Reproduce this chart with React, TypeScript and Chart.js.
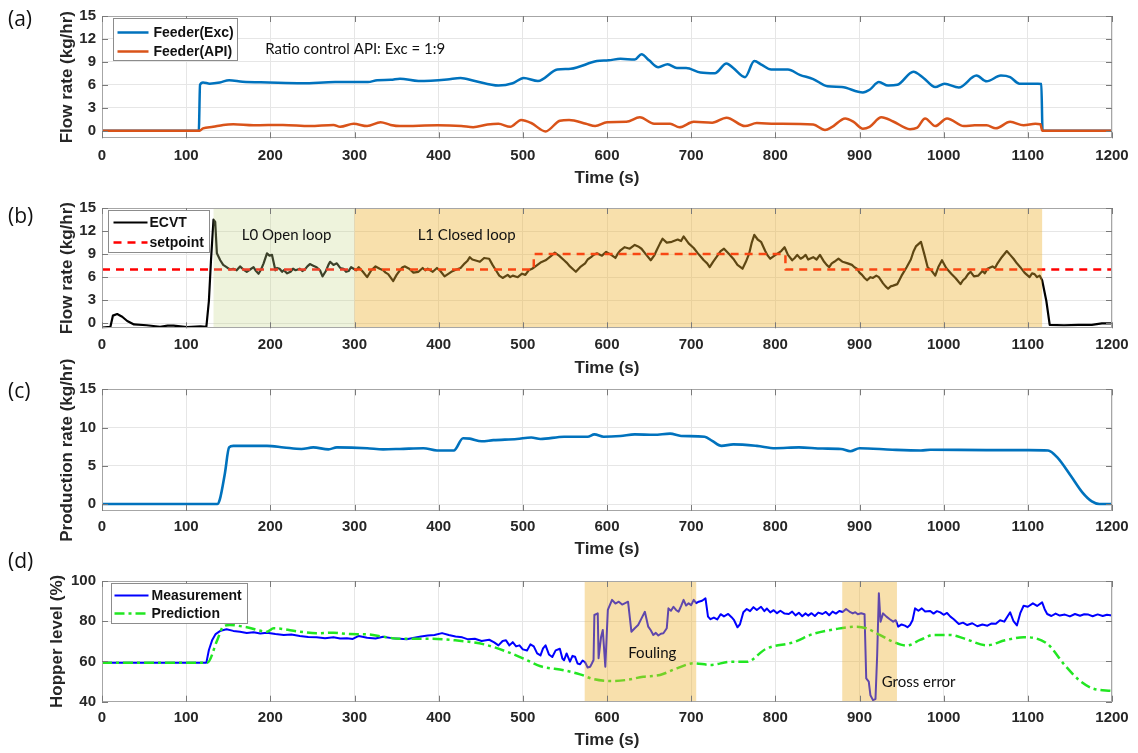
import React, { useEffect, useRef } from "react";
import { Chart, registerables } from "chart.js";

Chart.register(...registerables);

// ---------------- data ----------------
const timeTicks = [0, 100, 200, 300, 400, 500, 600, 700, 800, 900, 1000, 1100, 1200];
const flowTicks = [0, 3, 6, 9, 12, 15];
const productionTicks = [0, 5, 10, 15];
const hopperTicks = [40, 60, 80, 100];

// (a) feeder flow rates [time s, kg/hr]
const feederExc = [
  [0, 0], [115, 0], [116.5, 6.0], [120, 6.3], [128, 6.15], [140, 6.3], [151, 6.6], [167, 6.4], [198, 6.3],
  [238, 6.2], [277, 6.35], [316, 6.35], [327, 6.6], [343, 6.65], [354, 6.8], [376, 6.5], [410, 6.7],
  [426, 6.9], [443, 6.5], [471, 5.9], [488, 6.2], [501, 6.9], [518, 6.5], [541, 8.0], [557, 8.1],
  [588, 9.1], [602, 9.2], [616, 9.4], [633, 9.3], [641, 10.0], [650, 9.2], [661, 8.3], [672, 8.7],
  [683, 8.2], [694, 8.2], [711, 7.6], [728, 7.5], [742, 8.8], [750, 8.2], [764, 7.0], [775, 9.1],
  [784, 8.6], [795, 8.0], [815, 8.0], [829, 7.3], [845, 6.75], [862, 5.8], [879, 5.7], [904, 5.0],
  [912, 5.35], [923, 6.35], [934, 5.9], [945, 6.0], [964, 7.7], [976, 6.9], [990, 5.7], [1001, 6.15],
  [1018, 5.65], [1039, 7.2], [1051, 6.45], [1068, 7.2], [1079, 7.0], [1090, 6.15], [1112, 6.15],
  [1116, 6.1], [1117.5, 0], [1200, 0],
];
const feederApi = [
  [0, 0], [116, 0], [120, 0.3], [132, 0.5], [144, 0.75], [156, 0.83], [180, 0.7], [215, 0.75], [247, 0.6],
  [275, 0.75], [283, 0.5], [299, 0.9], [315, 0.6], [331, 1.1], [343, 0.75], [354, 0.6], [399, 0.7],
  [427, 0.6], [441, 0.45], [458, 0.8], [471, 0.9], [485, 0.5], [498, 1.4], [510, 1.0], [527, -0.1],
  [544, 1.3], [555, 1.4], [575, 0.9], [586, 0.6], [600, 1.1], [623, 1.15], [639, 1.75], [656, 0.9],
  [675, 0.9], [686, 0.45], [703, 1.15], [725, 1.05], [742, 1.7], [764, 0.6], [778, 1.0], [800, 0.9],
  [845, 0.8], [859, 0.1], [867, 0.45], [883, 1.6], [893, 1.15], [904, 0.25], [912, 0.5], [926, 1.75],
  [940, 1.2], [960, 0.2], [968, 0.35], [978, 1.6], [990, 0.6], [1004, 1.6], [1024, 0.6], [1037, 0.7],
  [1051, 0.7], [1062, 0.3], [1079, 1.15], [1095, 0.7], [1109, 0.9], [1115, 0.85], [1117, 0], [1200, 0],
];

// (b) ECVT flow rate and setpoint
const ecvt = [
  [0, -0.57], [10, -0.45], [13, 1.0], [18, 1.2], [24, 0.85], [30, 0.3], [38, -0.15], [53, -0.25],
  [69, -0.45], [78, -0.3], [85, -0.3], [101, -0.5], [117, -0.4], [124, -0.45], [127, 2.9], [129.5, 8.2],
  [132.5, 13.5], [134.5, 13.2], [136.5, 9.1], [140.5, 8.2], [144, 7.6], [148, 7.3], [152, 7.0], [156, 7.1],
  [160, 6.9], [164, 7.4], [168, 7.0], [172, 6.7], [176, 7.0], [180, 7.3], [183, 6.8], [186, 6.45],
  [189, 7.0], [192, 7.8], [196, 9.1], [199, 8.8], [202, 8.9], [206, 6.9], [208, 7.2], [211, 7.1],
  [214, 6.7], [216, 6.9], [220, 6.5], [224, 6.7], [227, 7.1], [230, 6.9], [235, 7.1], [238, 6.8],
  [241, 7.0], [244, 7.4], [247, 7.7], [251, 7.5], [255, 7.3], [259, 6.9], [262, 6.1], [266, 6.8],
  [269, 7.6], [271, 8.0], [275, 7.6], [279, 7.8], [283, 7.2], [287, 7.1], [290, 6.7], [293, 6.8],
  [296, 7.3], [299, 7.1], [302, 6.9], [305, 7.3], [310, 6.7], [315, 6.0], [320, 6.9], [325, 7.4],
  [330, 7.1], [334, 6.9], [337, 6.6], [340, 6.4], [346, 5.5], [350, 6.3], [354, 6.9], [357, 7.3],
  [360, 7.4], [365, 7.1], [370, 6.6], [376, 6.7], [381, 7.2], [384, 6.9], [387, 7.1], [393, 6.7],
  [398, 7.2], [402, 6.8], [407, 6.1], [411, 6.4], [415, 6.7], [421, 7.0], [426, 7.2], [431, 7.8],
  [434, 8.1], [437, 8.6], [440, 8.3], [443, 8.2], [449, 8.0], [454, 8.5], [460, 8.4], [464, 7.6],
  [468, 6.9], [472, 6.2], [476, 5.9], [482, 6.3], [485, 6.0], [488, 6.2], [494, 6.0], [499, 6.45],
  [503, 6.3], [507, 6.9], [511, 7.1], [515, 7.4], [521, 7.9], [527, 8.2], [533, 8.7], [538, 9.2],
  [543, 8.8], [549, 8.2], [552, 7.9], [556, 7.4], [560, 7.0], [563, 6.7], [568, 7.3], [574, 7.8],
  [577, 8.3], [581, 8.6], [584, 8.9], [588, 9.1], [594, 8.8], [599, 9.3], [605, 8.9], [610, 8.5],
  [613, 9.1], [616, 9.5], [621, 9.9], [627, 9.7], [633, 10.2], [637, 10.0], [641, 9.7], [646, 9.0],
  [652, 8.2], [656, 8.8], [659, 9.5], [663, 10.4], [666, 11.0], [671, 10.5], [677, 10.6],
  [684, 10.9], [688, 10.7], [691, 11.3], [697, 10.4], [703, 9.8], [708, 9.1], [712, 8.6], [715, 8.2],
  [719, 7.8], [722, 7.3], [726, 8.0], [730, 8.6], [735, 9.4], [739, 9.7], [745, 9.0], [750, 8.4],
  [755, 7.6], [761, 7.1], [765, 8.0], [769, 9.1], [772, 10.5], [775, 11.5], [779, 10.9], [783, 10.6],
  [788, 9.4], [791, 8.8], [794, 8.4], [799, 8.8], [803, 9.1], [807, 9.4], [811, 9.9], [815, 8.9],
  [820, 8.2], [823, 8.5], [826, 8.9], [830, 8.4], [833, 8.6], [836, 8.9], [839, 8.3], [845, 8.6],
  [849, 8.3], [853, 8.9], [858, 8.0], [861, 7.6], [864, 7.3], [867, 7.8], [870, 8.0], [875, 8.4],
  [880, 8.0], [886, 7.8], [891, 7.6], [894, 7.3], [897, 7.1], [900, 6.6], [903, 6.3], [906, 5.9],
  [909, 5.6], [913, 6.0], [916, 5.9], [920, 6.2], [923, 6.0], [928, 5.2], [931, 4.8], [934, 4.5],
  [937, 4.8], [940, 4.9], [945, 5.1], [950, 6.2], [956, 7.3], [961, 8.3], [964, 9.3], [967, 10.0],
  [970, 10.3], [973, 10.6], [977, 9.0], [981, 7.3], [986, 6.8], [990, 6.2], [994, 7.4], [998, 8.2],
  [1003, 7.2], [1009, 6.45], [1014, 5.9], [1017, 5.5], [1020, 5.1], [1023, 5.6], [1026, 5.9],
  [1029, 6.4], [1032, 6.7], [1036, 6.1], [1041, 6.2], [1046, 6.8], [1049, 6.5], [1052, 7.1],
  [1058, 7.4], [1061, 7.2], [1064, 7.8], [1069, 8.6], [1075, 9.4], [1079, 8.9], [1083, 8.4],
  [1087, 7.8], [1091, 7.3], [1096, 6.6], [1099, 6.3], [1102, 6.0], [1105, 6.5], [1108, 6.4],
  [1111, 6.0], [1114, 6.2], [1117, 5.6], [1122, 2.9], [1126, -0.2], [1143, -0.25], [1160, -0.2],
  [1176, -0.2], [1188, 0], [1200, 0],
];
const setpoint = [[0, 7], [513, 7], [513, 9], [812, 9], [812, 7], [1200, 7]];

// (c) production rate
const production = [
  [0, 0], [137, 0], [140, 0.6], [146, 4.0], [151, 7.4], [156, 7.6], [196, 7.6], [216, 7.4], [237, 7.2],
  [251, 7.4], [269, 7.15], [279, 7.4], [315, 7.3], [334, 7.15], [354, 7.2], [382, 7.3], [398, 7.0],
  [418, 7.0], [429, 8.6], [437, 8.55], [451, 8.2], [465, 8.35], [493, 8.5], [510, 8.7], [521, 8.5],
  [549, 8.8], [577, 8.8], [585, 9.1], [596, 8.8], [616, 8.9], [633, 9.1], [656, 9.05], [675, 9.2],
  [688, 8.9], [716, 8.8], [725, 8.25], [736, 7.6], [750, 7.8], [778, 7.6], [800, 7.3], [828, 7.4],
  [856, 7.25], [878, 7.2], [889, 6.9], [900, 7.3], [939, 7.1], [973, 7.0], [984, 7.1], [1051, 7.05],
  [1101, 7.05], [1124, 7.0], [1135, 6.1], [1151, 3.7], [1165, 1.5], [1176, 0.35], [1185, 0], [1200, 0],
];

// (d) hopper level [time s, %]
const hopperMeasurement = [
  [0, 59.4], [124, 59.4], [127, 65.7], [131, 70.7], [135, 73.6], [141, 75.3], [148, 76], [156, 75.2],
  [164, 74.8], [172, 74.2], [180, 74.5], [188, 73.9], [196, 74.3], [206, 73.6], [216, 73.1],
  [225, 73.4], [235, 72.7], [245, 72.2], [255, 72], [265, 71.6], [275, 72], [283, 71.4], [291, 71.5],
  [298, 71.2], [305, 72.7], [315, 71.8], [325, 71.4], [334, 72.3], [344, 71.6], [354, 71.3],
  [362, 71.0], [371, 71.8], [379, 72.4], [387, 72.9], [395, 73.2], [404, 74.1], [412, 73.2],
  [420, 72.4], [428, 72.0], [435, 71.0], [443, 71.3], [451, 70.2], [460, 70.8], [466, 69.5],
  [471, 68], [476, 70.2], [480, 70.5], [484, 68.0], [488, 69.6], [492, 67.5], [496, 68], [500, 66.0],
  [505, 65.5], [509, 68.5], [513, 67.5], [517, 64.0], [521, 63], [524, 66.5], [527, 68], [531, 63.5],
  [535, 62.2], [539, 65.5], [544, 66.3], [547, 61.5], [549, 60.6], [552, 64.0], [556, 59.9],
  [559, 62.8], [562, 62.4], [565, 59.0], [568, 58.6], [571, 60.5], [574, 59.6], [577, 57.0],
  [580, 57.4], [582, 59.0], [584, 60.7], [585, 83.1], [589, 83.9], [590, 61.6], [593, 72.3],
  [595, 75.6], [598, 57.4], [601, 85.6], [606, 90.6], [610, 88.8], [614, 89.7], [618, 88.3],
  [621, 88.9], [625, 89.7], [629, 74.8], [633, 76.5], [637, 78.1], [641, 81.4], [645, 84.7],
  [649, 77.3], [652, 75.5], [655, 73.2], [658, 74.2], [661, 72.9], [664, 73.8], [667, 74],
  [671, 76.5], [673, 86.4], [676, 85.2], [679, 87.2], [682, 85.6], [685, 84.7], [688, 87.5],
  [691, 90.6], [694, 87.8], [697, 88.9], [700, 88.0], [703, 90.6], [706, 89.0], [709, 89.7],
  [713, 90.2], [717, 91.4], [720, 82.3], [723, 81.0], [727, 81.8], [731, 80.9], [735, 83.5],
  [739, 82.4], [744, 83.6], [748, 82.0], [751, 80.5], [755, 77], [758, 78.5], [762, 84.5],
  [766, 86.1], [770, 85.0], [774, 87.0], [778, 85.6], [783, 87.2], [787, 85.0], [790, 86.3],
  [794, 84.4], [798, 85.5], [802, 84.0], [806, 85.2], [811, 83.8], [816, 83.6], [820, 84.8],
  [824, 82.9], [828, 84.2], [832, 82.5], [836, 83.9], [839, 82.8], [843, 84.0], [847, 82.6],
  [851, 84.3], [856, 83.6], [860, 84.6], [864, 83.0], [868, 84.8], [872, 83.8], [876, 85.1],
  [880, 84.6], [884, 86.1], [888, 84.8], [892, 83.9], [895, 84.5], [898, 83.5], [902, 84.0],
  [906, 83.5], [908, 51.6], [911, 50], [913, 43.2], [916, 40.8], [919, 41.3], [921, 63.2],
  [923, 93.9], [925, 79.8], [928, 83.9], [932, 82.3], [936, 81.0], [940, 79.8], [943, 80.5],
  [946, 77.3], [950, 78.4], [954, 77.8], [957, 77.0], [960, 78.1], [963, 80.5], [966, 86.4],
  [970, 85.2], [974, 86.4], [978, 84.8], [984, 85.1], [988, 83.8], [992, 85.0], [996, 84.4],
  [1000, 83.2], [1004, 84.1], [1008, 82.3], [1012, 81.0], [1018, 78.6], [1023, 79.3], [1028, 78.1],
  [1034, 79.0], [1040, 77.5], [1046, 78.4], [1052, 77.8], [1057, 78.9], [1062, 78.7], [1067, 80.5],
  [1072, 79.8], [1076, 82.5], [1079, 84.4], [1083, 80.0], [1087, 77.9], [1091, 84.0], [1095, 87.7],
  [1100, 87.2], [1106, 88.9], [1111, 87.6], [1117, 89.4], [1120, 86.0], [1123, 83.6], [1128, 82.6],
  [1133, 83.8], [1138, 82.8], [1144, 83.3], [1150, 82.4], [1156, 83.6], [1162, 82.7], [1167, 83.5],
  [1172, 83.3], [1177, 82.5], [1183, 83.4], [1189, 82.6], [1194, 83.2], [1200, 82.8],
];
const hopperPrediction = [
  [0, 59.4], [125, 59.4], [137, 70.7], [144, 77.3], [152, 78.1], [172, 77], [196, 74.8], [204, 76.5],
  [235, 74.8], [255, 74], [275, 74.3], [295, 73.6], [315, 73.5], [334, 72.3], [354, 71.3], [387, 71.3],
  [420, 70.5], [454, 68.5], [482, 64.7], [505, 60.6], [521, 57.6], [549, 55.6], [568, 53.6],
  [584, 51.2], [604, 50.3], [623, 50.8], [643, 52.4], [663, 53.3], [683, 56.6], [703, 59.1],
  [723, 58.3], [747, 59.8], [766, 59.8], [789, 66.3], [822, 69.6], [845, 73.7], [873, 76.2],
  [896, 77.3], [908, 76.5], [924, 73.2], [940, 69.8], [956, 67.9], [972, 70.7], [988, 73.2],
  [1008, 73.2], [1024, 71.5], [1051, 68], [1073, 70.5], [1095, 72.1], [1123, 68.8], [1144, 58.1],
  [1161, 50.7], [1177, 46.6], [1200, 45.4],
];

// shaded time windows [start s, end s]
const openLoopSpan = [132.5, 300];
const closedLoopSpan = [300, 1117];
const foulingSpan = [573.5, 706];
const grossErrorSpan = [879.5, 944.5];

// ---------------- styling / layout ----------------
const W = 1138;
const H = 753;
const PLOT_LEFT = 102;
const PLOT_RIGHT = 1112;
const AXIS_FONT = '"Liberation Sans", Arial, sans-serif';
const NOTE_FONT = 'Lato, "Open Sans", sans-serif';
const TEXT = "#262626";
const GRID = "#e6e6e6";
const FRAME = "#a6a6a6";
const TICK = "#7a7a7a";
const GREEN_TINT = "rgba(198,215,138,0.3)";
const ORANGE_TINT = "rgba(237,177,47,0.4)";

type Pt = number[];
interface SeriesCfg {
  label: string;
  points: Pt[];
  color: string;
  width: number;
  dash?: number[];
  smooth?: boolean;
  order: number;
}
interface PanelCfg {
  tag: string;
  tagY: number;
  top: number;
  bottom: number;
  xLabelY: number;
  xTitleY: number;
  yMin: number;
  yMax: number;
  yTicks: number[];
  yTitle: string;
  yTitleX: number;
  series: SeriesCfg[];
  spans: { span: number[]; fill: string }[];
  notes: { text: string; t: number; v: number }[];
  legend: { dx: number; dy: number; w: number; h: number; rows: number[]; l0: number; l1: number; tx: number };
}

const panels: PanelCfg[] = [
  {
    tag: "(a)", tagY: 20, top: 16, bottom: 138.3, xLabelY: 156, xTitleY: 178,
    yMin: -1, yMax: 15, yTicks: flowTicks, yTitle: "Flow rate (kg/hr)", yTitleX: 67,
    series: [
      { label: "Feeder(Exc)", points: feederExc, color: "#0072BD", width: 2.5, smooth: true, order: 1 },
      { label: "Feeder(API)", points: feederApi, color: "#D95319", width: 2.5, smooth: true, order: 0 },
    ],
    spans: [],
    notes: [{ text: "Ratio control API: Exc = 1:9", t: 194, v: 10.68 }],
    legend: { dx: 11, dy: 2, w: 124, h: 42, rows: [14, 33], l0: 4, l1: 35, tx: 40 },
  },
  {
    tag: "(b)", tagY: 217, top: 208, bottom: 328.3, xLabelY: 345, xTitleY: 368,
    yMin: -0.65, yMax: 15, yTicks: flowTicks, yTitle: "Flow rate (kg/hr)", yTitleX: 67,
    series: [
      { label: "ECVT", points: ecvt, color: "#000000", width: 2.2, order: 1 },
      { label: "setpoint", points: setpoint, color: "#ff0000", width: 2.5, dash: [8, 6], order: 0 },
    ],
    spans: [
      { span: openLoopSpan, fill: GREEN_TINT },
      { span: closedLoopSpan, fill: ORANGE_TINT },
    ],
    notes: [
      { text: "L0 Open loop", t: 166, v: 11.49 },
      { text: "L1 Closed loop", t: 375, v: 11.49 },
    ],
    legend: { dx: 6, dy: 2, w: 101, h: 42, rows: [12, 32], l0: 5, l1: 39, tx: 41 },
  },
  {
    tag: "(c)", tagY: 392, top: 389.3, bottom: 510.9, xLabelY: 526.7, xTitleY: 549.5,
    yMin: -0.9, yMax: 15, yTicks: productionTicks, yTitle: "Production rate (kg/hr)", yTitleX: 67,
    series: [{ label: "Production", points: production, color: "#0072BD", width: 2.6, smooth: true, order: 0 }],
    spans: [],
    notes: [],
    legend: { dx: 0, dy: 0, w: 0, h: 0, rows: [], l0: 0, l1: 0, tx: 0 },
  },
  {
    tag: "(d)", tagY: 562, top: 581, bottom: 701.7, xLabelY: 718, xTitleY: 740,
    yMin: 40, yMax: 100, yTicks: hopperTicks, yTitle: "Hopper level (%)", yTitleX: 57,
    series: [
      { label: "Measurement", points: hopperMeasurement, color: "#0000ff", width: 2, order: 1 },
      { label: "Prediction", points: hopperPrediction, color: "#22e622", width: 2.5, dash: [10, 4, 3, 4], smooth: true, order: 0 },
    ],
    spans: [
      { span: foulingSpan, fill: ORANGE_TINT },
      { span: grossErrorSpan, fill: ORANGE_TINT },
    ],
    notes: [
      { text: "Fouling", t: 625.3, v: 64.06 },
      { text: "Gross error", t: 926.4, v: 49.64 },
    ],
    legend: { dx: 9, dy: 2, w: 136, h: 40, rows: [12, 30], l0: 3, l1: 37, tx: 40 },
  },
];

function makeDecor(cfg: PanelCfg) {
  return {
    id: "decor" + cfg.tag,
    afterDraw(chart: any) {
      const { ctx, chartArea: a, scales } = chart;
      const xs = scales.x;
      const ys = scales.y;
      // shaded windows (drawn over the lines, translucent)
      ctx.save();
      ctx.beginPath();
      ctx.rect(a.left, a.top, a.right - a.left, a.bottom - a.top);
      ctx.clip();
      for (const s of cfg.spans) {
        const x0 = xs.getPixelForValue(s.span[0]);
        const x1 = xs.getPixelForValue(s.span[1]);
        ctx.fillStyle = s.fill;
        ctx.fillRect(x0, a.top, x1 - x0, a.bottom - a.top);
      }
      ctx.restore();

      // frame and inward ticks
      ctx.save();
      ctx.strokeStyle = FRAME;
      ctx.lineWidth = 1;
      ctx.strokeRect(Math.round(a.left) + 0.5, Math.round(a.top) + 0.5, Math.round(a.right - a.left) - 1, Math.round(a.bottom - a.top) - 1);
      ctx.strokeStyle = TICK;
      ctx.lineWidth = 1;
      ctx.beginPath();
      for (const t of xs.ticks) {
        const px = Math.round(xs.getPixelForValue(t.value)) + 0.5;
        ctx.moveTo(px, a.bottom);
        ctx.lineTo(px, a.bottom - 6);
        ctx.moveTo(px, a.top);
        ctx.lineTo(px, a.top + 6);
      }
      for (const t of ys.ticks) {
        const py = Math.round(ys.getPixelForValue(t.value)) + 0.5;
        ctx.moveTo(a.left, py);
        ctx.lineTo(a.left + 6, py);
        ctx.moveTo(a.right, py);
        ctx.lineTo(a.right - 6, py);
      }
      ctx.stroke();
      ctx.restore();

      // notes
      ctx.save();
      ctx.fillStyle = "#111111";
      ctx.font = "15px " + NOTE_FONT;
      ctx.textAlign = "left";
      ctx.textBaseline = "middle";
      for (const n of cfg.notes) {
        ctx.fillText(n.text, xs.getPixelForValue(n.t), ys.getPixelForValue(n.v));
      }
      ctx.restore();

      // legend
      const lg = cfg.legend;
      if (lg.rows.length) {
        const bx = Math.round(a.left + lg.dx) + 0.5;
        const by = Math.round(a.top + lg.dy) + 0.5;
        ctx.save();
        ctx.fillStyle = "#ffffff";
        ctx.fillRect(bx, by, lg.w, lg.h);
        ctx.strokeStyle = "#8c8c8c";
        ctx.lineWidth = 1;
        ctx.strokeRect(bx, by, lg.w, lg.h);
        ctx.font = "bold 14px " + AXIS_FONT;
        ctx.textBaseline = "middle";
        ctx.textAlign = "left";
        cfg.series.forEach((s, i) => {
          const ry = by + lg.rows[i];
          ctx.strokeStyle = s.color;
          ctx.lineWidth = s.width;
          ctx.setLineDash(s.dash || []);
          ctx.beginPath();
          ctx.moveTo(bx + lg.l0, ry);
          ctx.lineTo(bx + lg.l1, ry);
          ctx.stroke();
          ctx.setLineDash([]);
          ctx.fillStyle = "#111111";
          ctx.fillText(s.label, bx + lg.tx, ry + 0.5);
        });
        ctx.restore();
      }

      // y-axis title
      ctx.save();
      ctx.translate(cfg.yTitleX, (a.top + a.bottom) / 2);
      ctx.rotate(-Math.PI / 2);
      ctx.font = "bold 17px " + AXIS_FONT;
      ctx.fillStyle = TEXT;
      ctx.textAlign = "center";
      ctx.textBaseline = "middle";
      ctx.fillText(cfg.yTitle, 0, 0);
      ctx.restore();

      // panel tag
      ctx.save();
      ctx.font = '21px "Open Sans", sans-serif';
      ctx.fillStyle = "#111111";
      ctx.textAlign = "left";
      ctx.textBaseline = "middle";
      ctx.fillText(cfg.tag, 8, cfg.tagY);
      ctx.restore();
    },
  };
}

function buildConfig(cfg: PanelCfg): any {
  const tickFont = { family: AXIS_FONT, size: 15, weight: "bold" as const };
  const xAxisHeight = cfg.xTitleY + 10.2 - cfg.bottom;
  return {
    type: "line",
    data: {
      datasets: cfg.series.map((s) => ({
        label: s.label,
        data: s.points.map((p) => ({ x: p[0], y: p[1] })),
        borderColor: s.color,
        backgroundColor: s.color,
        borderWidth: s.width,
        borderDash: s.dash || [],
        borderJoinStyle: "round",
        pointRadius: 0,
        pointHoverRadius: 0,
        fill: false,
        tension: 0,
        cubicInterpolationMode: s.smooth ? "monotone" : "default",
        order: s.order,
      })),
    },
    options: {
      animation: false,
      responsive: false,
      maintainAspectRatio: false,
      events: [],
      layout: {
        padding: {
          left: 0,
          right: W - PLOT_RIGHT,
          top: cfg.top,
          bottom: H - cfg.xTitleY - 10.2,
        },
      },
      plugins: { legend: { display: false }, tooltip: { enabled: false }, title: { display: false } },
      scales: {
        x: {
          type: "linear",
          min: 0,
          max: 1200,
          afterBuildTicks: (s: any) => {
            s.ticks = timeTicks.map((v) => ({ value: v }));
          },
          afterFit: (s: any) => {
            s.height = xAxisHeight;
          },
          grid: { color: GRID, drawTicks: false, lineWidth: 1 },
          border: { display: false },
          ticks: {
            autoSkip: false,
            maxRotation: 0,
            padding: cfg.xLabelY - cfg.bottom - 9,
            color: TEXT,
            font: tickFont,
            callback: (v: any) => String(v),
          },
          title: {
            display: true,
            text: "Time (s)",
            color: TEXT,
            font: { family: AXIS_FONT, size: 17, weight: "bold" },
            padding: { top: 0, bottom: 0 },
          },
        },
        y: {
          type: "linear",
          min: cfg.yMin,
          max: cfg.yMax,
          afterBuildTicks: (s: any) => {
            s.ticks = cfg.yTicks.map((v) => ({ value: v }));
          },
          afterFit: (s: any) => {
            s.width = PLOT_LEFT;
          },
          grid: { color: GRID, drawTicks: false, lineWidth: 1 },
          border: { display: false },
          ticks: { padding: 6, color: TEXT, font: tickFont, callback: (v: any) => String(v) },
          title: { display: false },
        },
      },
    },
    plugins: [makeDecor(cfg)],
  };
}

function Panel({ cfg }: { cfg: PanelCfg }) {
  const ref = useRef<HTMLCanvasElement | null>(null);
  useEffect(() => {
    if (!ref.current) return;
    const chart = new Chart(ref.current, buildConfig(cfg));
    return () => chart.destroy();
  }, [cfg]);
  return (
    <canvas
      ref={ref}
      width={W}
      height={H}
      style={{ position: "absolute", left: 0, top: 0, width: W, height: H }}
    />
  );
}

export default function App() {
  return (
    <div style={{ position: "fixed", left: 0, top: 0, width: W, height: H, background: "#ffffff", overflow: "hidden" }}>
      {panels.map((p) => (
        <Panel key={p.tag} cfg={p} />
      ))}
    </div>
  );
}
